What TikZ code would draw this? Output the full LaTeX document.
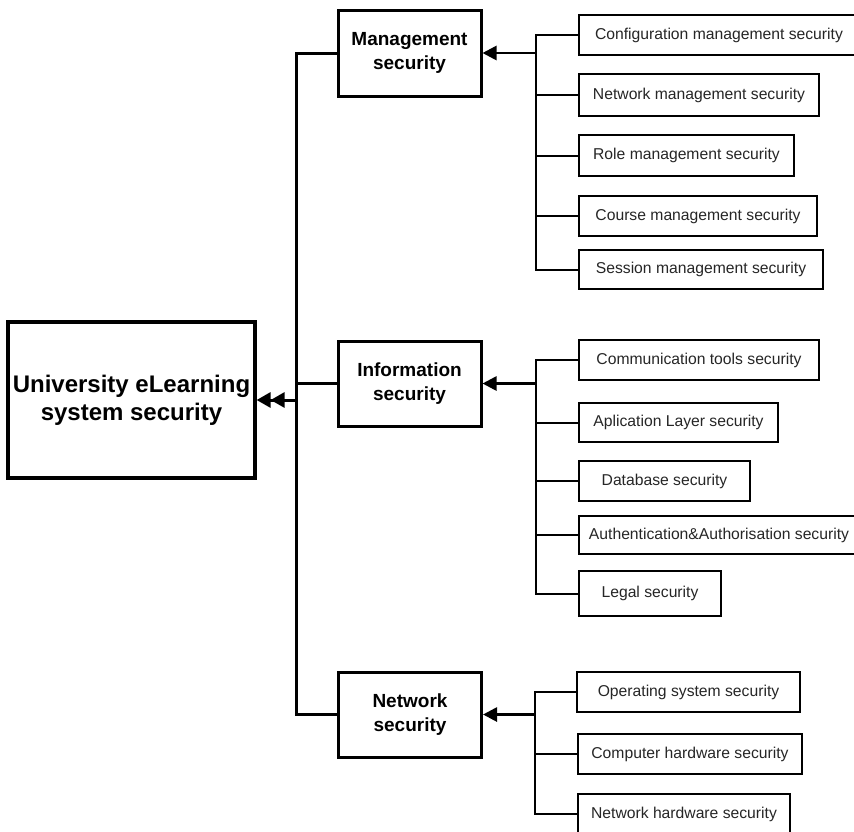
\documentclass[tikz,border=0pt]{standalone}
\usepackage{fontspec}
\setmainfont{Liberation Sans}
\usetikzlibrary{arrows.meta}
\begin{document}
\begin{tikzpicture}[x=1pt,y=-1pt,
 mainbox/.style={draw, line width=3.2pt, minimum width=247pt, minimum height=156pt, align=center, font=\bfseries\fontsize{24}{28}\selectfont, inner sep=0pt},
 midbox/.style={draw, line width=3pt, minimum width=143pt, minimum height=85pt, align=center, font=\bfseries\fontsize{19}{23.5}\selectfont, inner sep=0pt},
 leaf/.style={draw, line width=2pt, anchor=west, minimum height=40pt, inner sep=0pt, font=\fontsize{15.7}{18}\selectfont, text=black!85},
 trunk/.style={line width=3pt},
 bus/.style={line width=2pt},
 arr/.style={line width=2.7pt, -{Triangle[length=14pt,width=14pt]}},
 dbl/.style={line width=3pt, -{Triangle[length=14pt,width=15pt]Triangle[length=14pt,width=15pt]}}
]
\useasboundingbox (0,0) rectangle (854,831);
\clip (0,0) rectangle (854,831);
\fill[white] (0,0) rectangle (854,831);

% main and middle boxes
\node[mainbox] (main) at (131.5,400) {University eLearning\\system security};
\node[midbox, minimum height=86pt] (mgmt) at (409.5,53) {Management\\security};
\node[midbox] (info) at (409.5,383.5) {Information\\security};
\node[midbox] (net) at (410,714.5) {Network\\security};

% trunk
\coordinate (tj) at (296,400);
\draw[trunk] (mgmt.west) -| (tj) |- (net.west);
\draw[trunk] (info.west) -- (info.west -| tj);
\draw[dbl] (tj) -- (main.east);

% management leaves
\node[leaf, minimum width=280pt] (m1) at (578,35) {Configuration management security};
\node[leaf, minimum width=240pt, minimum height=42pt] (m2) at (578,95) {Network management security};
\node[leaf, minimum width=215pt, minimum height=41pt] (m3) at (578,155.5) {Role management security};
\node[leaf, minimum width=238pt] (m4) at (578,216) {Course management security};
\node[leaf, minimum width=244pt, minimum height=39pt] (m5) at (578,269.5) {Session management security};

% information leaves
\node[leaf, minimum width=240pt] (i1) at (578,360) {Communication tools security};
\node[leaf, minimum width=199pt, minimum height=39pt] (i2) at (578,422.5) {Aplication Layer security};
\node[leaf, minimum width=171pt] (i3) at (578,481) {Database security};
\node[leaf, minimum width=280pt, minimum height=38pt] (i4) at (578,535) {Authentication\&Authorisation security};
\node[leaf, minimum width=142pt, minimum height=45pt] (i5) at (578,593.5) {Legal security};

% network leaves
\node[leaf, minimum width=223pt] (n1) at (576,692) {Operating system security};
\node[leaf, minimum width=224pt] (n2) at (577,754) {Computer hardware security};
\node[leaf, minimum width=212pt] (n3) at (577,814) {Network hardware security};

% buses
\coordinate (mb) at (536,53);
\coordinate (ib) at (536,383.5);
\coordinate (nb) at (535,714.5);

\draw[bus] (m1.west) -- (m1.west -| mb) -- (m5.west -| mb) -- (m5.west);
\foreach \n in {m2,m3,m4} \draw[bus] (\n.west) -- (\n.west -| mb);
\draw[arr] (mb) -- (mgmt.east);

\draw[bus] (i1.west) -- (i1.west -| ib) -- (i5.west -| ib) -- (i5.west);
\foreach \n in {i2,i3,i4} \draw[bus] (\n.west) -- (\n.west -| ib);
\draw[arr] (ib) -- (info.east);

\draw[bus] (n1.west) -- (n1.west -| nb) -- (n3.west -| nb) -- (n3.west);
\draw[bus] (n2.west) -- (n2.west -| nb);
\draw[arr] (nb) -- (net.east);
\end{tikzpicture}
\end{document}
